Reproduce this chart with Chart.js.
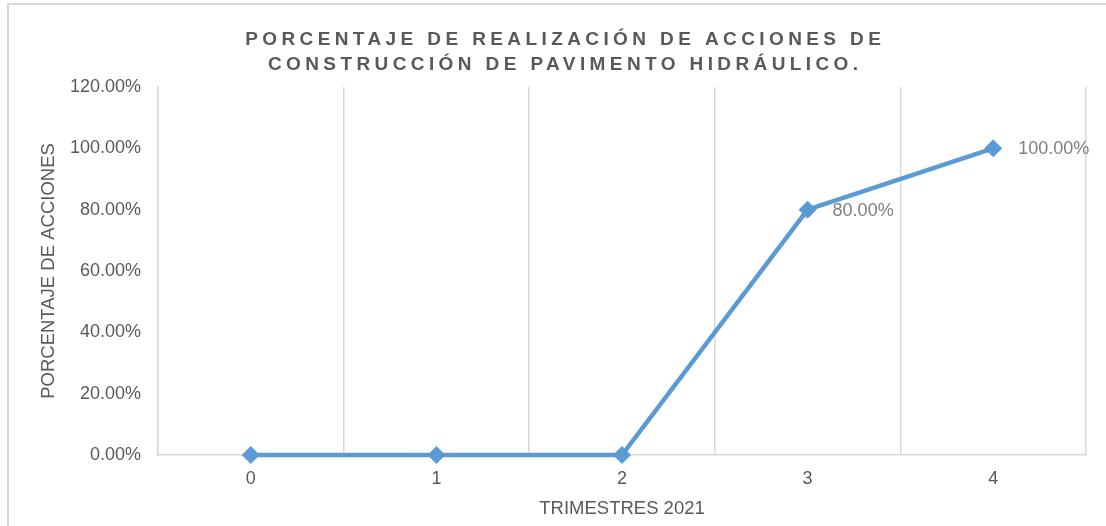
<!DOCTYPE html>
<html>
<head>
<meta charset="utf-8">
<script src="https://cdn.jsdelivr.net/npm/chart.js@4/dist/chart.umd.min.js"></script>
<style>
  html, body { margin: 0; padding: 0; background: #fff; overflow: hidden; }
  #wrap {
    position: absolute; left: 7px; top: 3px;
    width: 1108px; height: 523px;
    border-top: 2px solid #d9d9d9; border-left: 2px solid #d9d9d9;
  }
</style>
</head>
<body>
<div id="wrap"><canvas id="accionesChart" width="1108" height="523"></canvas></div>
<script>
// Datos de la grafica
const trimestres = ['0', '1', '2', '3', '4'];
const porcentajes = [0, 0, 0, 0.80, 1.00];
const yTicks = [0, 0.2, 0.4, 0.6, 0.8, 1.0, 1.2];
const tituloLineas = ['PORCENTAJE DE REALIZACIÓN DE ACCIONES DE', 'CONSTRUCCIÓN DE PAVIMENTO HIDRÁULICO.'];

const FONT = '"Liberation Sans", Arial, sans-serif';
const fmt = v => (v * 100).toFixed(2) + '%';

// titulo con espaciado entre letras
const tituloPlugin = {
    id: 'tituloEspaciado',
    afterDraw(chart) {
        const ctx = chart.ctx;
        const esp = 4.4;
        ctx.save();
        ctx.font = 'bold 19px ' + FONT;
        ctx.fillStyle = '#595959';
        ctx.textBaseline = 'middle';
        ctx.textAlign = 'left';
        ctx.letterSpacing = esp + 'px';
        const cx = chart.width / 2;
        tituloLineas.forEach((t, i) => {
            const w = ctx.measureText(t).width - esp;
            ctx.fillText(t, cx - w / 2, 35 + i * 25);
        });
        ctx.restore();
    }
};

// etiquetas de datos (solo valores distintos de cero)
const etiquetasPlugin = {
    id: 'etiquetas',
    afterDatasetsDraw(chart) {
        const ctx = chart.ctx;
        const meta = chart.getDatasetMeta(0);
        ctx.save();
        ctx.font = '18px ' + FONT;
        ctx.fillStyle = '#7f7f7f';
        ctx.textBaseline = 'middle';
        ctx.textAlign = 'left';
        meta.data.forEach((pt, i) => {
            if (porcentajes[i] > 0) ctx.fillText(fmt(porcentajes[i]), pt.x + 25, pt.y + 1);
        });
        ctx.restore();
    }
};

const ctx = document.getElementById('accionesChart').getContext('2d');
const chart = new Chart(ctx, {
    type: 'line',
    data: {
        labels: trimestres,
        datasets: [{
            data: porcentajes,
            clip: false,
            borderColor: '#5b9bd5',
            backgroundColor: '#5b9bd5',
            borderWidth: 4.5,
            tension: 0,
            pointStyle: 'rectRot',
            pointRadius: 8.5,
            pointBorderWidth: 1,
            pointBorderColor: '#5b9bd5',
            pointBackgroundColor: '#5b9bd5'
        }]
    },
    options: {
        responsive: false,
        animation: false,
        layout: { padding: { top: 82, right: 31, left: 0, bottom: 0 } },
        plugins: {
            legend: { display: false },
            title: { display: false },
            tooltip: { enabled: false }
        },
        scales: {
            x: {
                offset: true,
                grid: { offset: true, color: '#d9d9d9', lineWidth: 1.5, drawTicks: false },
                border: { color: '#d9d9d9', width: 1.5 },
                ticks: { color: '#595959', font: { family: FONT, size: 18 }, padding: 13 },
                title: {
                    display: true, text: 'TRIMESTRES 2021', color: '#595959',
                    font: { family: FONT, size: 18.5 }, padding: { top: 0, bottom: 8 }
                },
                afterFit(s) { s.height = 73; }
            },
            y: {
                min: 0,
                max: 1.2,
                afterBuildTicks(s) { s.ticks = yTicks.map(v => ({ value: v })); },
                grid: { display: false, drawTicks: false },
                border: { color: '#d9d9d9', width: 1.5 },
                ticks: {
                    color: '#595959', font: { family: FONT, size: 18 }, padding: 17,
                    callback: v => fmt(v)
                },
                title: {
                    display: true, text: 'PORCENTAJE DE ACCIONES', color: '#595959',
                    font: { family: FONT, size: 18.5 }, padding: { top: 29, bottom: 0 }
                },
                afterFit(s) { s.width = 149; }
            }
        }
    },
    plugins: [tituloPlugin, etiquetasPlugin]
});
</script>
</body>
</html>
